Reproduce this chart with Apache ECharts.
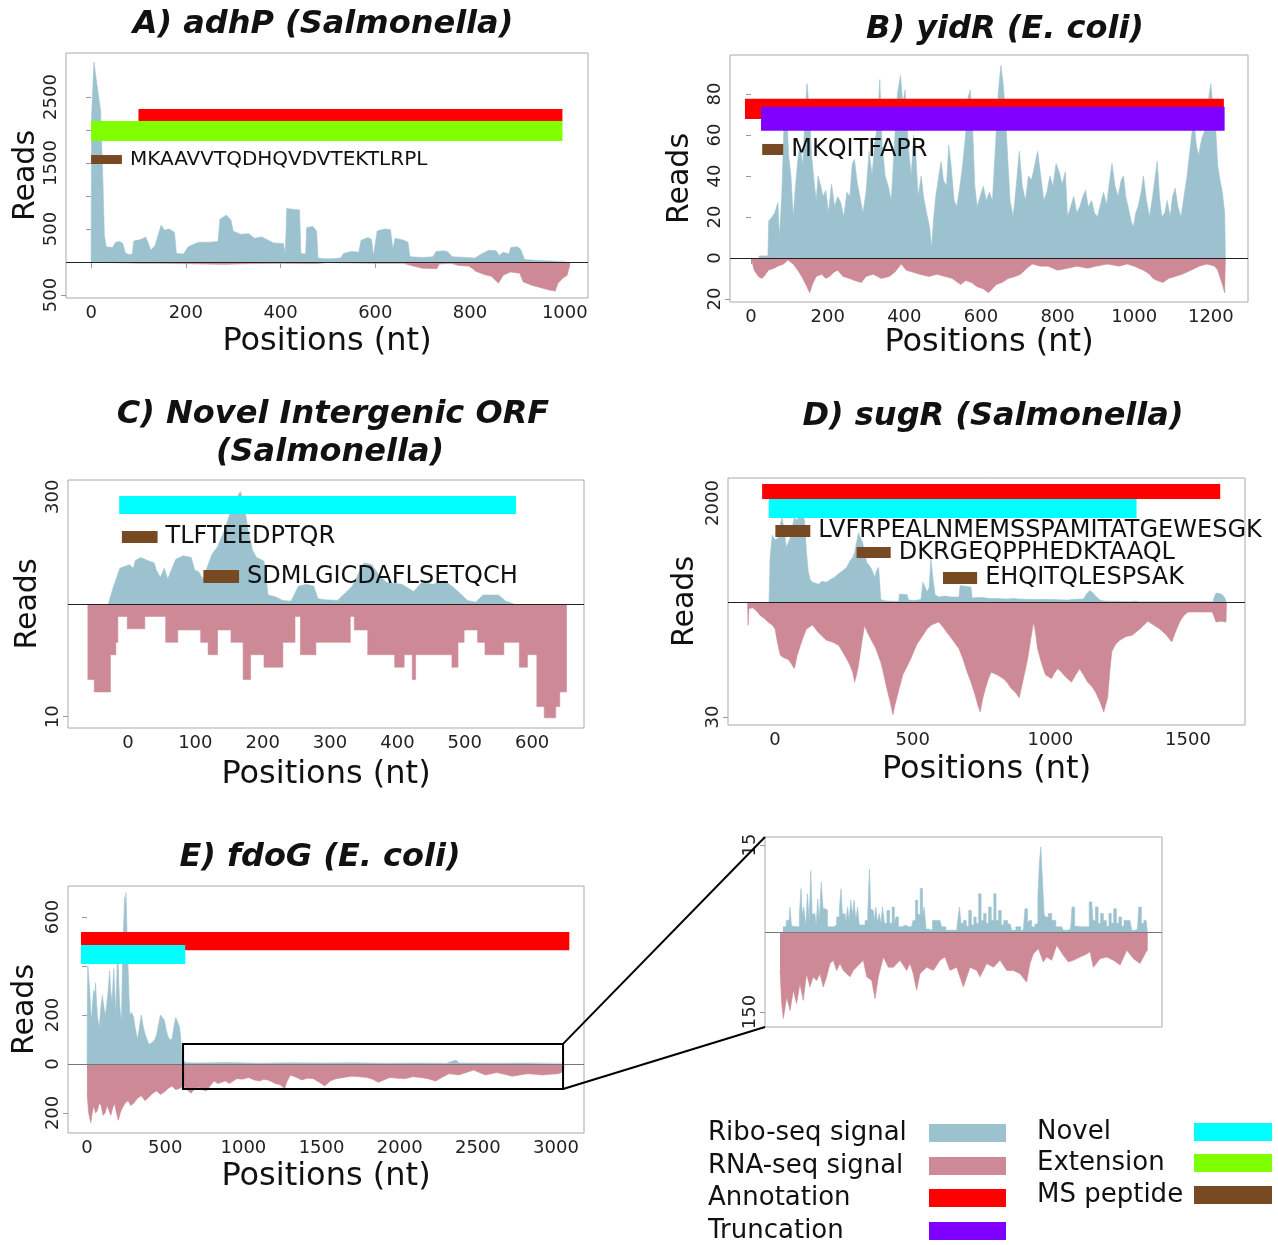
<!DOCTYPE html>
<html>
<head>
<meta charset="utf-8">
<script src="https://cdn.jsdelivr.net/npm/echarts@6/dist/echarts.min.js"></script>
<style>
html,body{margin:0;padding:0;background:#fff}
#c{width:1278px;height:1245px}
</style>
</head>
<body>
<div id="c"></div>
<script>
// ---- A) adhP (Salmonella) ----
var aRibo = [[0,0],[1,2200],[6,3030],[12,2700],[20,2300],[25,1200],[28,400],[32,230],[45,220],[52,300],[60,310],[67,280],[72,140],[80,110],[87,120],[90,320],[105,340],[115,380],[120,300],[126,180],[135,250],[148,560],[155,480],[165,500],[176,450],[180,130],[195,120],[205,230],[220,280],[228,300],[250,300],[268,310],[272,650],[285,710],[295,640],[300,470],[315,420],[333,430],[345,360],[360,380],[374,330],[385,290],[406,280],[410,120],[413,810],[425,800],[440,790],[443,130],[453,120],[455,520],[468,540],[476,470],[479,60],[490,50],[510,50],[527,60],[533,130],[550,160],[565,150],[570,330],[585,370],[592,340],[596,100],[604,470],[620,500],[632,490],[637,200],[642,360],[660,330],[669,300],[673,80],[700,70],[722,80],[728,160],[745,170],[754,150],[762,80],[790,70],[810,60],[826,130],[840,180],[855,170],[862,100],[870,150],[882,120],[886,220],[900,230],[907,190],[915,40],[940,25],[970,15],[1000,12],[1004,0]];
var aRna = [[0,-5],[50,-10],[100,-18],[150,-20],[200,-25],[280,-35],[330,-25],[400,-20],[470,-25],[500,-10],[550,-15],[600,-20],[660,-20],[680,-60],[700,-95],[730,-100],[735,-30],[760,-20],[775,-50],[800,-65],[812,-140],[830,-190],[845,-215],[860,-320],[870,-200],[885,-150],[905,-170],[912,-300],[930,-350],[950,-390],[965,-420],[980,-440],[985,-330],[995,-250],[1005,-200],[1010,-60],[1011,0]];
var aAnnot = [100, 995];
var aExt = [0, 995];
var aPep = [[0, 65]];
var aPepText = ['MKAAVVTQDHQVDVTEKTLRPL'];

// ---- B) yidR (E. coli) ----
var bRibo = [[20,0],[22,1],[44,1],[46,18],[55,20],[62,22],[70,27],[74,10],[80,30],[86,65],[92,75],[98,50],[104,40],[110,20],[116,35],[122,48],[128,55],[135,45],[141,70],[146,85],[152,72],[158,50],[164,38],[170,28],[175,40],[182,35],[188,30],[195,33],[202,22],[210,36],[218,25],[226,30],[234,27],[242,20],[250,32],[258,30],[264,46],[270,48],[276,38],[284,30],[292,22],[300,32],[308,52],[316,40],[322,55],[330,65],[336,87],[342,55],[350,40],[358,35],[366,28],[374,55],[382,80],[390,89],[396,75],[402,82],[410,55],[418,40],[424,60],[430,50],[436,30],[444,40],[450,30],[458,22],[466,15],[471,5],[476,18],[482,30],[490,40],[496,47],[502,38],[510,35],[516,55],[522,45],[530,28],[537,25],[545,35],[552,45],[560,60],[566,78],[572,82],[578,65],[584,35],[590,25],[598,30],[606,35],[614,28],[622,32],[630,28],[638,55],[645,80],[652,94],[658,85],[664,70],[670,48],[676,28],[684,20],[692,35],[700,52],[708,35],[716,28],[724,40],[732,38],[740,45],[748,52],[756,40],[764,28],[772,32],[780,40],[788,35],[796,46],[804,42],[812,36],[820,42],[826,20],[834,25],[842,30],[850,22],[858,25],[866,30],[873,33],[880,25],[889,28],[896,22],[904,20],[912,26],[920,32],[928,26],[936,38],[942,46],[950,35],[958,30],[966,38],[972,40],[978,30],[984,25],[992,18],[998,15],[1004,22],[1010,25],[1018,32],[1024,40],[1032,28],[1040,20],[1048,30],[1055,40],[1060,47],[1066,30],[1072,20],[1080,22],[1086,28],[1094,20],[1100,30],[1107,34],[1114,25],[1122,20],[1130,30],[1138,40],[1144,50],[1150,60],[1156,68],[1162,55],[1168,50],[1176,58],[1184,62],[1190,70],[1196,80],[1200,85],[1206,72],[1212,65],[1218,45],[1224,38],[1230,32],[1236,22],[1238,0]];
var bRna = [[0,0],[3,-2],[8,-6],[19,-9],[28,-10],[34,-9],[45,-6],[60,-5],[70,-4],[85,-3],[96,-1],[110,-3],[122,-6],[132,-9],[143,-13],[153,-17],[160,-13],[170,-9],[184,-8],[195,-10],[205,-9],[216,-7],[226,-6],[240,-9],[257,-10],[270,-11],[288,-12],[300,-9],[319,-8],[340,-10],[361,-9],[375,-7],[392,-3],[405,-6],[423,-7],[440,-8],[464,-9],[485,-8],[506,-9],[525,-10],[547,-13],[560,-11],[575,-12],[590,-14],[605,-15],[620,-17],[630,-15],[640,-13],[655,-12],[671,-10],[690,-9],[703,-8],[720,-5],[734,-3],[755,-4],[775,-4],[800,-6],[827,-5],[850,-4],[879,-5],[900,-4],[931,-3],[960,-4],[982,-3],[1000,-4],[1024,-6],[1040,-8],[1049,-10],[1060,-11],[1075,-12],[1090,-10],[1107,-9],[1125,-8],[1148,-6],[1170,-4],[1190,-3],[1210,-4],[1218,-6],[1225,-10],[1232,-14],[1236,-17],[1238,0]];
var bAnnot = [-16, 1234];
var bTrunc = [26, 1236];
var bPep = [[29, 84]];
var bPepText = ['MKQITFAPR'];

// ---- C) Novel Intergenic ORF (Salmonella) ----
var cRibo = [[-29,0],[-23,40],[-12,100],[2,110],[8,100],[11,122],[19,130],[31,120],[39,115],[42,95],[48,75],[54,100],[59,70],[71,125],[82,135],[94,130],[99,95],[105,90],[111,70],[125,140],[133,160],[142,200],[151,250],[159,290],[167,315],[173,270],[179,200],[185,150],[191,130],[202,120],[208,25],[219,20],[230,10],[242,8],[253,50],[265,55],[276,50],[282,15],[293,12],[311,10],[325,35],[333,50],[350,115],[362,110],[373,80],[384,60],[407,55],[424,35],[436,60],[453,55],[470,65],[481,50],[493,30],[504,10],[516,5],[527,25],[550,25],[561,8],[573,0]];
var cRna = [[-60,-6.7],[-50,-7.8],[-26,-4.5],[-18,-3.4],[-15,-1.1],[-1,-2.2],[25,-1.1],[56,-3.4],[74,-2.3],[108,-3.4],[119,-4.5],[133,-2.3],[153,-3.4],[171,-6.7],[182,-4.5],[202,-5.6],[230,-3.4],[248,-1.1],[256,-4.5],[279,-3.4],[330,-1.1],[336,-2.3],[356,-4.5],[396,-5.6],[410,-4.5],[422,-6.7],[427,-4.5],[481,-5.6],[490,-3.4],[499,-2.3],[519,-3.4],[530,-4.5],[558,-3.4],[581,-5.6],[593,-4.5],[607,-9.1],[618,-10.1],[635,-9.1],[641,-7.8],[651,0]];
var cNovel = [-13, 576];
var cPep = [[-9, 44], [112, 165]];
var cPepText = ['TLFTEEDPTQR', 'SDMLGICDAFLSETQCH'];

// ---- D) sugR (Salmonella) ----
var dRibo = [[-22,0],[-18,900],[-10,1350],[0,1250],[12,1300],[20,1600],[26,1700],[34,1400],[41,1100],[48,1200],[55,1300],[62,1500],[70,1700],[80,1650],[92,1800],[100,1750],[107,1650],[114,1000],[121,600],[128,450],[136,400],[147,380],[158,360],[170,420],[187,400],[200,450],[216,500],[228,560],[238,600],[250,650],[260,700],[267,780],[274,850],[282,900],[289,1000],[296,1200],[303,1400],[310,1300],[318,1200],[325,1000],[333,800],[340,750],[347,700],[355,600],[362,500],[370,650],[376,700],[381,300],[384,50],[395,30],[406,20],[430,15],[449,15],[452,160],[465,150],[479,150],[485,40],[508,30],[530,50],[537,400],[545,300],[552,200],[560,300],[566,870],[573,500],[581,150],[595,100],[605,110],[617,120],[640,100],[668,100],[672,330],[690,320],[712,300],[716,80],[735,90],[756,90],[780,70],[800,70],[820,65],[843,60],[865,70],[887,60],[910,55],[946,50],[975,55],[1004,50],[1030,45],[1062,40],[1090,55],[1121,60],[1130,150],[1143,230],[1155,180],[1164,120],[1180,40],[1194,20],[1215,15],[1237,15],[1265,10],[1296,10],[1305,20],[1315,15],[1325,5],[1400,3],[1500,5],[1558,5],[1590,5],[1597,120],[1602,180],[1615,170],[1624,150],[1634,80],[1638,0]];
var dRna = [[-100,0],[-98,-6],[-95,-1.7],[-80,-1.5],[-65,-2.5],[-54,-3.5],[-40,-4.2],[-32,-4.8],[-20,-5.5],[-10,-6],[0,-7],[4,-8.7],[10,-11],[19,-13.9],[30,-14.5],[48,-15],[58,-16],[70,-17.4],[80,-14],[92,-11.3],[103,-9],[114,-7],[125,-6.5],[136,-6],[147,-7],[158,-8],[172,-9],[187,-10],[210,-10.5],[231,-11.3],[245,-13],[260,-14.8],[272,-16.5],[282,-18.3],[289,-20.9],[296,-19],[303,-16.5],[314,-11],[325,-6.1],[336,-8],[347,-9.6],[365,-12],[384,-15.7],[395,-19],[406,-22.6],[418,-26],[428,-29.4],[435,-27],[442,-25],[453,-22],[464,-19],[478,-17],[493,-14.8],[515,-11],[537,-8.7],[552,-7],[566,-6.1],[580,-5.6],[595,-5.2],[610,-6.5],[625,-8],[646,-10],[668,-12.2],[683,-15],[698,-18.3],[712,-21],[727,-24.4],[737,-27],[745,-28.7],[755,-25],[764,-22.6],[775,-20],[785,-18.3],[807,-19],[829,-20],[843,-21],[858,-22.6],[872,-23.5],[887,-25],[902,-20],[917,-15],[928,-10],[939,-5.2],[946,-8],[953,-12],[968,-16],[982,-19],[1004,-20],[1015,-18.5],[1026,-17.4],[1037,-18],[1048,-19],[1062,-20],[1077,-20.9],[1092,-19],[1106,-17.4],[1120,-19],[1135,-20.9],[1150,-22],[1164,-23.5],[1180,-26],[1194,-28.7],[1200,-27],[1208,-25],[1216,-18],[1223,-13],[1237,-11],[1252,-10],[1275,-9],[1296,-8.7],[1325,-7],[1354,-5],[1375,-6],[1397,-7],[1420,-8.5],[1441,-10.4],[1456,-7.5],[1471,-5],[1485,-3.5],[1500,-2.6],[1550,-2.6],[1588,-2.6],[1602,-5.2],[1620,-5],[1638,-5.2],[1640,0]];
var dAnnot = [-47, 1617];
var dNovel = [-23, 1313];
var dPep = [[1, 128], [296, 420], [610, 734]];
var dPepText = ['LVFRPEALNMEMSSPAMITATGEWESGK', 'DKRGEQPPHEDKTAAQL', 'EHQITQLESPSAK'];

// ---- E) fdoG (E. coli) ----
var eRibo = [[0,0],[2,300],[5,400],[11,350],[17,300],[23,220],[29,180],[35,250],[42,300],[48,280],[54,330],[60,260],[66,200],[72,170],[78,150],[88,230],[98,280],[106,240],[115,200],[121,220],[127,250],[135,300],[144,380],[151,300],[159,250],[165,320],[171,390],[177,300],[183,200],[190,350],[196,470],[202,350],[208,250],[214,200],[220,180],[225,350],[230,500],[236,600],[240,680],[245,650],[249,700],[255,550],[262,400],[268,280],[274,200],[286,210],[298,190],[310,140],[323,100],[335,150],[347,200],[360,150],[372,120],[384,100],[396,80],[408,85],[421,90],[433,100],[445,120],[457,160],[469,200],[481,190],[494,180],[506,140],[518,110],[530,100],[543,100],[555,150],[567,190],[580,170],[592,150],[600,100],[611,20],[628,5],[700,4],[900,6],[1100,3],[1300,5],[1500,4],[1700,5],[1900,3],[2100,4],[2300,3],[2340,12],[2360,15],[2380,4],[2600,3],[2800,4],[3045,3],[3046,0]];
var eRna = [[0,-120],[10,-200],[24,-240],[33,-200],[42,-170],[54,-200],[66,-190],[78,-160],[90,-170],[102,-210],[115,-200],[128,-170],[140,-190],[152,-210],[164,-180],[176,-160],[188,-200],[200,-230],[212,-200],[225,-180],[243,-160],[262,-150],[280,-170],[298,-160],[322,-140],[347,-130],[371,-150],[396,-135],[420,-120],[445,-110],[469,-125],[494,-115],[518,-100],[543,-90],[567,-105],[592,-100],[616,-90],[640,-105],[665,-120],[690,-100],[714,-95],[738,-105],[763,-110],[787,-90],[812,-70],[836,-80],[861,-75],[885,-70],[910,-80],[934,-70],[958,-60],[995,-62],[1032,-55],[1068,-65],[1105,-70],[1130,-62],[1154,-65],[1180,-72],[1203,-80],[1235,-85],[1264,-100],[1280,-70],[1301,-45],[1340,-55],[1374,-65],[1410,-58],[1447,-60],[1485,-75],[1521,-90],[1555,-70],[1594,-60],[1643,-55],[1692,-50],[1740,-52],[1790,-55],[1826,-62],[1863,-75],[1900,-65],[1936,-55],[1985,-58],[2034,-60],[2083,-52],[2132,-55],[2180,-60],[2230,-70],[2270,-55],[2315,-40],[2345,-42],[2376,-45],[2425,-35],[2474,-25],[2510,-35],[2548,-45],[2585,-40],[2621,-35],[2670,-42],[2719,-50],[2768,-45],[2817,-40],[2865,-42],[2914,-45],[2963,-42],[3012,-40],[3035,-35],[3049,-30],[3050,0]];
var eAnnot = [-39, 3085];
var eNovel = [-39, 628];
var eZoomSpan = [614, 3045];
var eZoomReads = [-102, 82];

// ---- zoom inset of E ----
var zRibo = [[650,0],[652,0.9],[670,0.9],[674,2.0],[690,2.0],[700,4.3],[712,1.0],[729,0.9],[750,0.9],[765,3],[772,7.5],[780,3],[794,4.3],[805,1],[816,6.6],[828,2],[838,10.6],[845,3],[860,3.2],[875,1],[882,5.7],[895,2],[908,8.6],[920,4],[937,3.7],[950,0.9],[975,0.9],[992,1.2],[1014,2.6],[1028,4],[1036,7.5],[1046,3],[1058,3.2],[1070,1.5],[1080,4.3],[1090,2],[1102,5.5],[1112,3],[1124,5.5],[1135,2],[1146,4.3],[1158,1.2],[1180,1.2],[1201,2.0],[1215,3],[1223,10.9],[1232,4],[1245,3.7],[1256,2],[1267,4.3],[1278,1.5],[1289,3.2],[1300,1.5],[1311,4.3],[1325,1.5],[1344,3.7],[1360,1.5],[1377,4.3],[1390,1.5],[1399,2.6],[1421,0.9],[1443,1.2],[1475,0.9],[1497,0.9],[1515,2],[1530,5.5],[1545,3],[1563,7.5],[1575,3],[1585,4.3],[1600,0.5],[1618,0.3],[1651,2.0],[1684,2.0],[1706,0.9],[1739,0.3],[1794,0.3],[1808,2],[1816,4.3],[1830,1.5],[1849,2.0],[1865,1],[1882,3.7],[1900,1.2],[1915,2.6],[1930,1.5],[1948,6.6],[1962,2],[1981,3.2],[1995,1.5],[2014,4.3],[2030,2],[2047,6.6],[2060,2],[2080,3.7],[2095,1.2],[2113,2.0],[2146,1.4],[2168,0.3],[2200,0.9],[2233,0.3],[2255,4.0],[2266,1.5],[2277,2.0],[2299,0.9],[2321,1.4],[2337,6],[2343,12.2],[2354,14.7],[2365,8.9],[2376,3],[2387,2.6],[2409,3.2],[2431,2.0],[2464,0.9],[2486,0.9],[2508,0.3],[2545,0.5],[2563,4.3],[2580,1],[2596,0.9],[2651,0.9],[2684,5.2],[2700,2],[2717,4.3],[2735,1.5],[2750,3.2],[2772,2.0],[2790,1],[2805,3.2],[2820,1.5],[2838,4.0],[2855,1.5],[2871,2.6],[2890,1],[2903,2.0],[2936,2.0],[2958,0.3],[2985,0.5],[3002,4.3],[3020,1.5],[3035,2.0],[3050,2.0],[3051,0]];
var zRna = [[630,-72],[641,-134],[652,-162],[674,-122],[696,-147],[718,-109],[739,-134],[761,-97],[783,-128],[805,-78],[827,-103],[849,-84],[871,-91],[893,-78],[915,-103],[937,-84],[959,-59],[981,-53],[1003,-72],[1025,-59],[1047,-72],[1069,-78],[1091,-84],[1113,-72],[1157,-59],[1179,-53],[1201,-84],[1234,-91],[1256,-125],[1278,-84],[1311,-47],[1344,-66],[1377,-66],[1421,-53],[1465,-72],[1486,-59],[1508,-78],[1530,-109],[1552,-78],[1596,-66],[1640,-72],[1684,-53],[1717,-47],[1750,-72],[1794,-66],[1838,-103],[1882,-66],[1926,-72],[1948,-84],[1992,-59],[2036,-66],[2080,-53],[2124,-72],[2168,-72],[2211,-78],[2255,-94],[2277,-59],[2299,-41],[2332,-31],[2365,-56],[2387,-47],[2420,-53],[2453,-25],[2475,-34],[2497,-44],[2530,-56],[2563,-53],[2607,-47],[2651,-41],[2673,-37],[2695,-66],[2739,-50],[2783,-47],[2827,-53],[2871,-62],[2915,-34],[2959,-50],[3002,-59],[3035,-41],[3050,-34],[3051,0]];

// ---- legend ----
var legendLeft = ['Ribo-seq signal', 'RNA-seq signal', 'Annotation', 'Truncation'];
var legendRight = ['Novel', 'Extension', 'MS peptide'];

var RIBO = '#9dc2cf', RNA = '#cd8a96', ANNOT = '#ff0000', EXT = '#80ff00',
    TRUNC = '#7f00ff', NOVEL = '#00ffff', PEP = '#774a24';
var FONT = 'DejaVu Sans';

var panels = [
  {box:[66,53,588,298], x:[-53,1049], xTicks:[0,200,400,600,800,1000],
   ribo:[-545,3167], riboTicks:[0,500,1000,1500,2000,2500], riboLabels:[500,1500,2500],
   rna:[-545,3167], rnaTicks:[-500], rnaLabels:[-500], readsGap:24, posGap:28,
   riboData:aRibo, rnaData:aRna, zero:'#222',
   bars:[{span:aAnnot, y:[2136,2318], color:ANNOT}, {span:aExt, y:[1833,2136], color:EXT}],
   peps:aPep, pepText:aPepText, pepY:[[1485,1621]], pepFont:20},
  {box:[730,55,1248,302], x:[-55,1297], xTicks:[0,200,400,600,800,1000,1200],
   ribo:[-21.5,99], riboTicks:[0,20,40,60,80], riboLabels:[0,20,40,60,80],
   rna:[-21.5,99], rnaTicks:[-20], rnaLabels:[-20], readsGap:35, posGap:24,
   riboData:bRibo, rnaData:bRna, zero:'#222',
   bars:[{span:bAnnot, y:[67.8,77.6], color:ANNOT}, {span:bTrunc, y:[62,73.7], color:TRUNC}],
   peps:bPep, pepText:bPepText, pepY:[[50.2,55.6]], pepFont:24},
  {box:[68,480,584,728], x:[-89,677], xTicks:[0,100,200,300,400,500,600],
   ribo:[-347,347], riboTicks:[300], riboLabels:[300],
   rna:[-11,11], rnaTicks:[-10], rnaLabels:[-10], readsGap:23, posGap:31,
   riboData:cRibo, rnaData:cRna, rnaStep:'end', zero:'#222',
   bars:[{span:cNovel, y:[252,302], color:NOVEL}],
   peps:cPep, pepText:cPepText, pepY:[[171,204],[59,95]], pepFont:24},
  {box:[728,478,1245,725], x:[-171,1707], xTicks:[0,500,1000,1500],
   ribo:[-2485,2505], riboTicks:[2000], riboLabels:[2000],
   rna:[-32.1,32.4], rnaTicks:[-30], rnaLabels:[-30], readsGap:28, posGap:29,
   riboData:dRibo, rnaData:dRna, zero:'#222',
   bars:[{span:dAnnot, y:[2081,2384], color:ANNOT}, {span:dNovel, y:[1697,2081], color:NOVEL}],
   peps:dPep, pepText:dPepText, pepY:[[1313,1555],[889,1111],[364,606]], pepFont:24},
  {box:[68,886,584,1133], x:[-122,3179], xTicks:[0,500,1000,1500,2000,2500,3000],
   ribo:[-282,727], riboTicks:[0,200,400,600], riboLabels:[0,200,600],
   rna:[-282,727], rnaTicks:[-200], rnaLabels:[-200], readsGap:28, posGap:28,
   riboData:eRibo, rnaData:eRna, zero:'#777',
   bars:[{span:eAnnot, y:[465,539], color:ANNOT}, {span:eNovel, y:[408,486], color:NOVEL}],
   peps:[], pepText:[], pepY:[], pepFont:24, zoomBox:true},
  {box:[765,837,1162,1027], x:[531,3147], xTicks:null,
   ribo:[-16.4,16.4], riboTicks:[15], riboLabels:[15],
   rna:[-178,178], rnaTicks:[-150], rnaLabels:[-150], readsGap:null, posGap:0,
   riboData:zRibo, riboStep:'middle', rnaData:zRna, zero:'#777',
   bars:[], peps:[], pepText:[], pepY:[], pepFont:24}
];

function plain(v) { return String(Math.abs(v)); }

function yAxisSpec(gi, range, ticks, labels, gap) {
  return {
    type: 'value', gridIndex: gi, position: 'left', min: range[0], max: range[1],
    name: gap != null ? 'Reads' : '', nameLocation: 'middle', nameGap: gap || 0, nameRotate: 90,
    nameTextStyle: {fontFamily: FONT, fontSize: 30, color: '#111'},
    axisLine: {show: false}, splitLine: {show: false},
    axisTick: {show: true, customValues: ticks, length: 5, lineStyle: {color: '#999'}},
    axisLabel: {show: true, customValues: labels, rotate: 90, fontFamily: FONT, fontSize: 18,
      color: '#222', margin: 6, formatter: plain}
  };
}

function barItem(params, api) {
  var p0 = api.coord([api.value(0), api.value(3)]);
  var p1 = api.coord([api.value(1), api.value(2)]);
  return {type: 'rect', shape: {x: p0[0], y: p0[1], width: p1[0] - p0[0], height: p1[1] - p0[1]},
    style: {fill: api.visual('color')}};
}

function pepRenderer(texts, size) {
  return function (params, api) {
    var p0 = api.coord([api.value(0), api.value(3)]);
    var p1 = api.coord([api.value(1), api.value(2)]);
    return {type: 'group', children: [
      {type: 'rect', shape: {x: p0[0], y: p0[1], width: p1[0] - p0[0], height: p1[1] - p0[1]}, style: {fill: PEP}},
      {type: 'text', x: p1[0] + 8, y: (p0[1] + p1[1]) / 2,
       style: {text: texts[params.dataIndex], fill: '#111', fontFamily: FONT, fontSize: size,
               align: 'left', verticalAlign: 'middle'}}
    ]};
  };
}

function boxItem(params, api) {
  var p0 = api.coord([api.value(0), api.value(3)]);
  var p1 = api.coord([api.value(1), api.value(2)]);
  return {type: 'rect', shape: {x: p0[0], y: p0[1], width: p1[0] - p0[0], height: p1[1] - p0[1]},
    style: {fill: 'none', stroke: '#000', lineWidth: 2}};
}

var grids = [], xAxes = [], yAxes = [], series = [], riboIdx = [];
panels.forEach(function (p, gi) {
  grids.push({left: p.box[0], top: p.box[1], width: p.box[2] - p.box[0], height: p.box[3] - p.box[1],
    show: true, borderColor: '#aaa', borderWidth: 1, backgroundColor: 'transparent'});
  xAxes.push({type: 'value', gridIndex: gi, min: p.x[0], max: p.x[1], position: 'bottom',
    name: p.xTicks ? 'Positions (nt)' : '', nameLocation: 'middle', nameGap: p.posGap,
    nameTextStyle: {fontFamily: FONT, fontSize: 32, color: '#111'},
    axisLine: {show: false}, splitLine: {show: false},
    axisTick: {show: !!p.xTicks, customValues: p.xTicks || [], length: 6, lineStyle: {color: '#999'}},
    axisLabel: {show: !!p.xTicks, customValues: p.xTicks || [], fontFamily: FONT, fontSize: 18, color: '#222',
      margin: 6, formatter: plain}});
  var ry = yAxes.length;
  yAxes.push(yAxisSpec(gi, p.ribo, p.riboTicks, p.riboLabels, p.readsGap));
  var ny = yAxes.length;
  yAxes.push(yAxisSpec(gi, p.rna, p.rnaTicks, p.rnaLabels, null));
  riboIdx.push(ry);
  series.push({type: 'line', xAxisIndex: gi, yAxisIndex: ry, data: p.riboData, symbol: 'none', step: p.riboStep || false,
    lineStyle: {width: 0.6, color: RIBO}, itemStyle: {color: RIBO}, areaStyle: {color: RIBO, opacity: 1}, z: 2});
  series.push({type: 'line', xAxisIndex: gi, yAxisIndex: ny, data: p.rnaData, symbol: 'none', step: p.rnaStep || false,
    lineStyle: {width: 0.6, color: RNA}, itemStyle: {color: RNA}, areaStyle: {color: RNA, opacity: 1}, z: 2,
    markLine: {silent: true, symbol: ['none', 'none'], label: {show: false},
      lineStyle: {color: p.zero, width: 1, type: 'solid'}, data: [{yAxis: 0}]}});
  if (p.bars.length) {
    series.push({type: 'custom', xAxisIndex: gi, yAxisIndex: ry, renderItem: barItem, z: 4,
      data: p.bars.map(function (b) { return {value: [b.span[0], b.span[1], b.y[0], b.y[1]], itemStyle: {color: b.color}}; })});
  }
  if (p.peps.length) {
    series.push({type: 'custom', xAxisIndex: gi, yAxisIndex: ry, renderItem: pepRenderer(p.pepText, p.pepFont), z: 5,
      data: p.peps.map(function (s, i) { return [s[0], s[1], p.pepY[i][0], p.pepY[i][1]]; })});
  }
  if (p.zoomBox) {
    series.push({type: 'custom', xAxisIndex: gi, yAxisIndex: ry, renderItem: boxItem, z: 6,
      data: [[eZoomSpan[0], eZoomSpan[1], eZoomReads[0], eZoomReads[1]]]});
  }
});

var titleStyle = {fontFamily: FONT, fontSize: 32, fontWeight: 'bold', fontStyle: 'italic', fill: '#111',
  align: 'center', verticalAlign: 'middle'};
function title(t, x, y) {
  return {type: 'text', x: x, y: y, style: Object.assign({text: t}, titleStyle)};
}
var graphics = [
  title('A) adhP (Salmonella)', 323, 25),
  title('B) yidR (E. coli)', 1005, 30),
  title('C) Novel Intergenic ORF', 333, 415),
  title('(Salmonella)', 330, 453),
  title('D) sugR (Salmonella)', 993, 417),
  title('E) fdoG (E. coli)', 320, 858)
];
var leftColors = [RIBO, RNA, ANNOT, TRUNC], rightColors = [NOVEL, EXT, PEP];
var leftY = [1133, 1166, 1198, 1231], rightY = [1132, 1163, 1195];
legendLeft.forEach(function (t, i) {
  graphics.push({type: 'text', x: 708, y: leftY[i], style: {text: t, fontFamily: FONT, fontSize: 26, fill: '#111', align: 'left', verticalAlign: 'middle'}});
  graphics.push({type: 'rect', shape: {x: 929, y: leftY[i] - 9, width: 77, height: 18}, style: {fill: leftColors[i]}});
});
legendRight.forEach(function (t, i) {
  graphics.push({type: 'text', x: 1037, y: rightY[i], style: {text: t, fontFamily: FONT, fontSize: 26, fill: '#111', align: 'left', verticalAlign: 'middle'}});
  graphics.push({type: 'rect', shape: {x: 1194, y: rightY[i] - 9, width: 78, height: 18}, style: {fill: rightColors[i]}});
});

var chart = echarts.init(document.getElementById('c'));
chart.setOption({
  backgroundColor: '#fff', animation: false,
  grid: grids, xAxis: xAxes, yAxis: yAxes, series: series, graphic: graphics
});

// connector lines from the zoom box in E to the inset frame
var ez = {xAxisIndex: 4, yAxisIndex: riboIdx[4]};
var zi = {xAxisIndex: 5, yAxisIndex: riboIdx[5]};
var boxTop = chart.convertToPixel(ez, [eZoomSpan[1], eZoomReads[1]]);
var boxBot = chart.convertToPixel(ez, [eZoomSpan[1], eZoomReads[0]]);
var insTop = chart.convertToPixel(zi, [panels[5].x[0], panels[5].ribo[1]]);
var insBot = chart.convertToPixel(zi, [panels[5].x[0], panels[5].ribo[0]]);
graphics.push({type: 'line', shape: {x1: boxTop[0], y1: boxTop[1], x2: insTop[0], y2: insTop[1]}, style: {stroke: '#000', lineWidth: 2}, z: 100});
graphics.push({type: 'line', shape: {x1: boxBot[0], y1: boxBot[1], x2: insBot[0], y2: insBot[1]}, style: {stroke: '#000', lineWidth: 2}, z: 100});
chart.setOption({graphic: graphics});
</script>
</body>
</html>
